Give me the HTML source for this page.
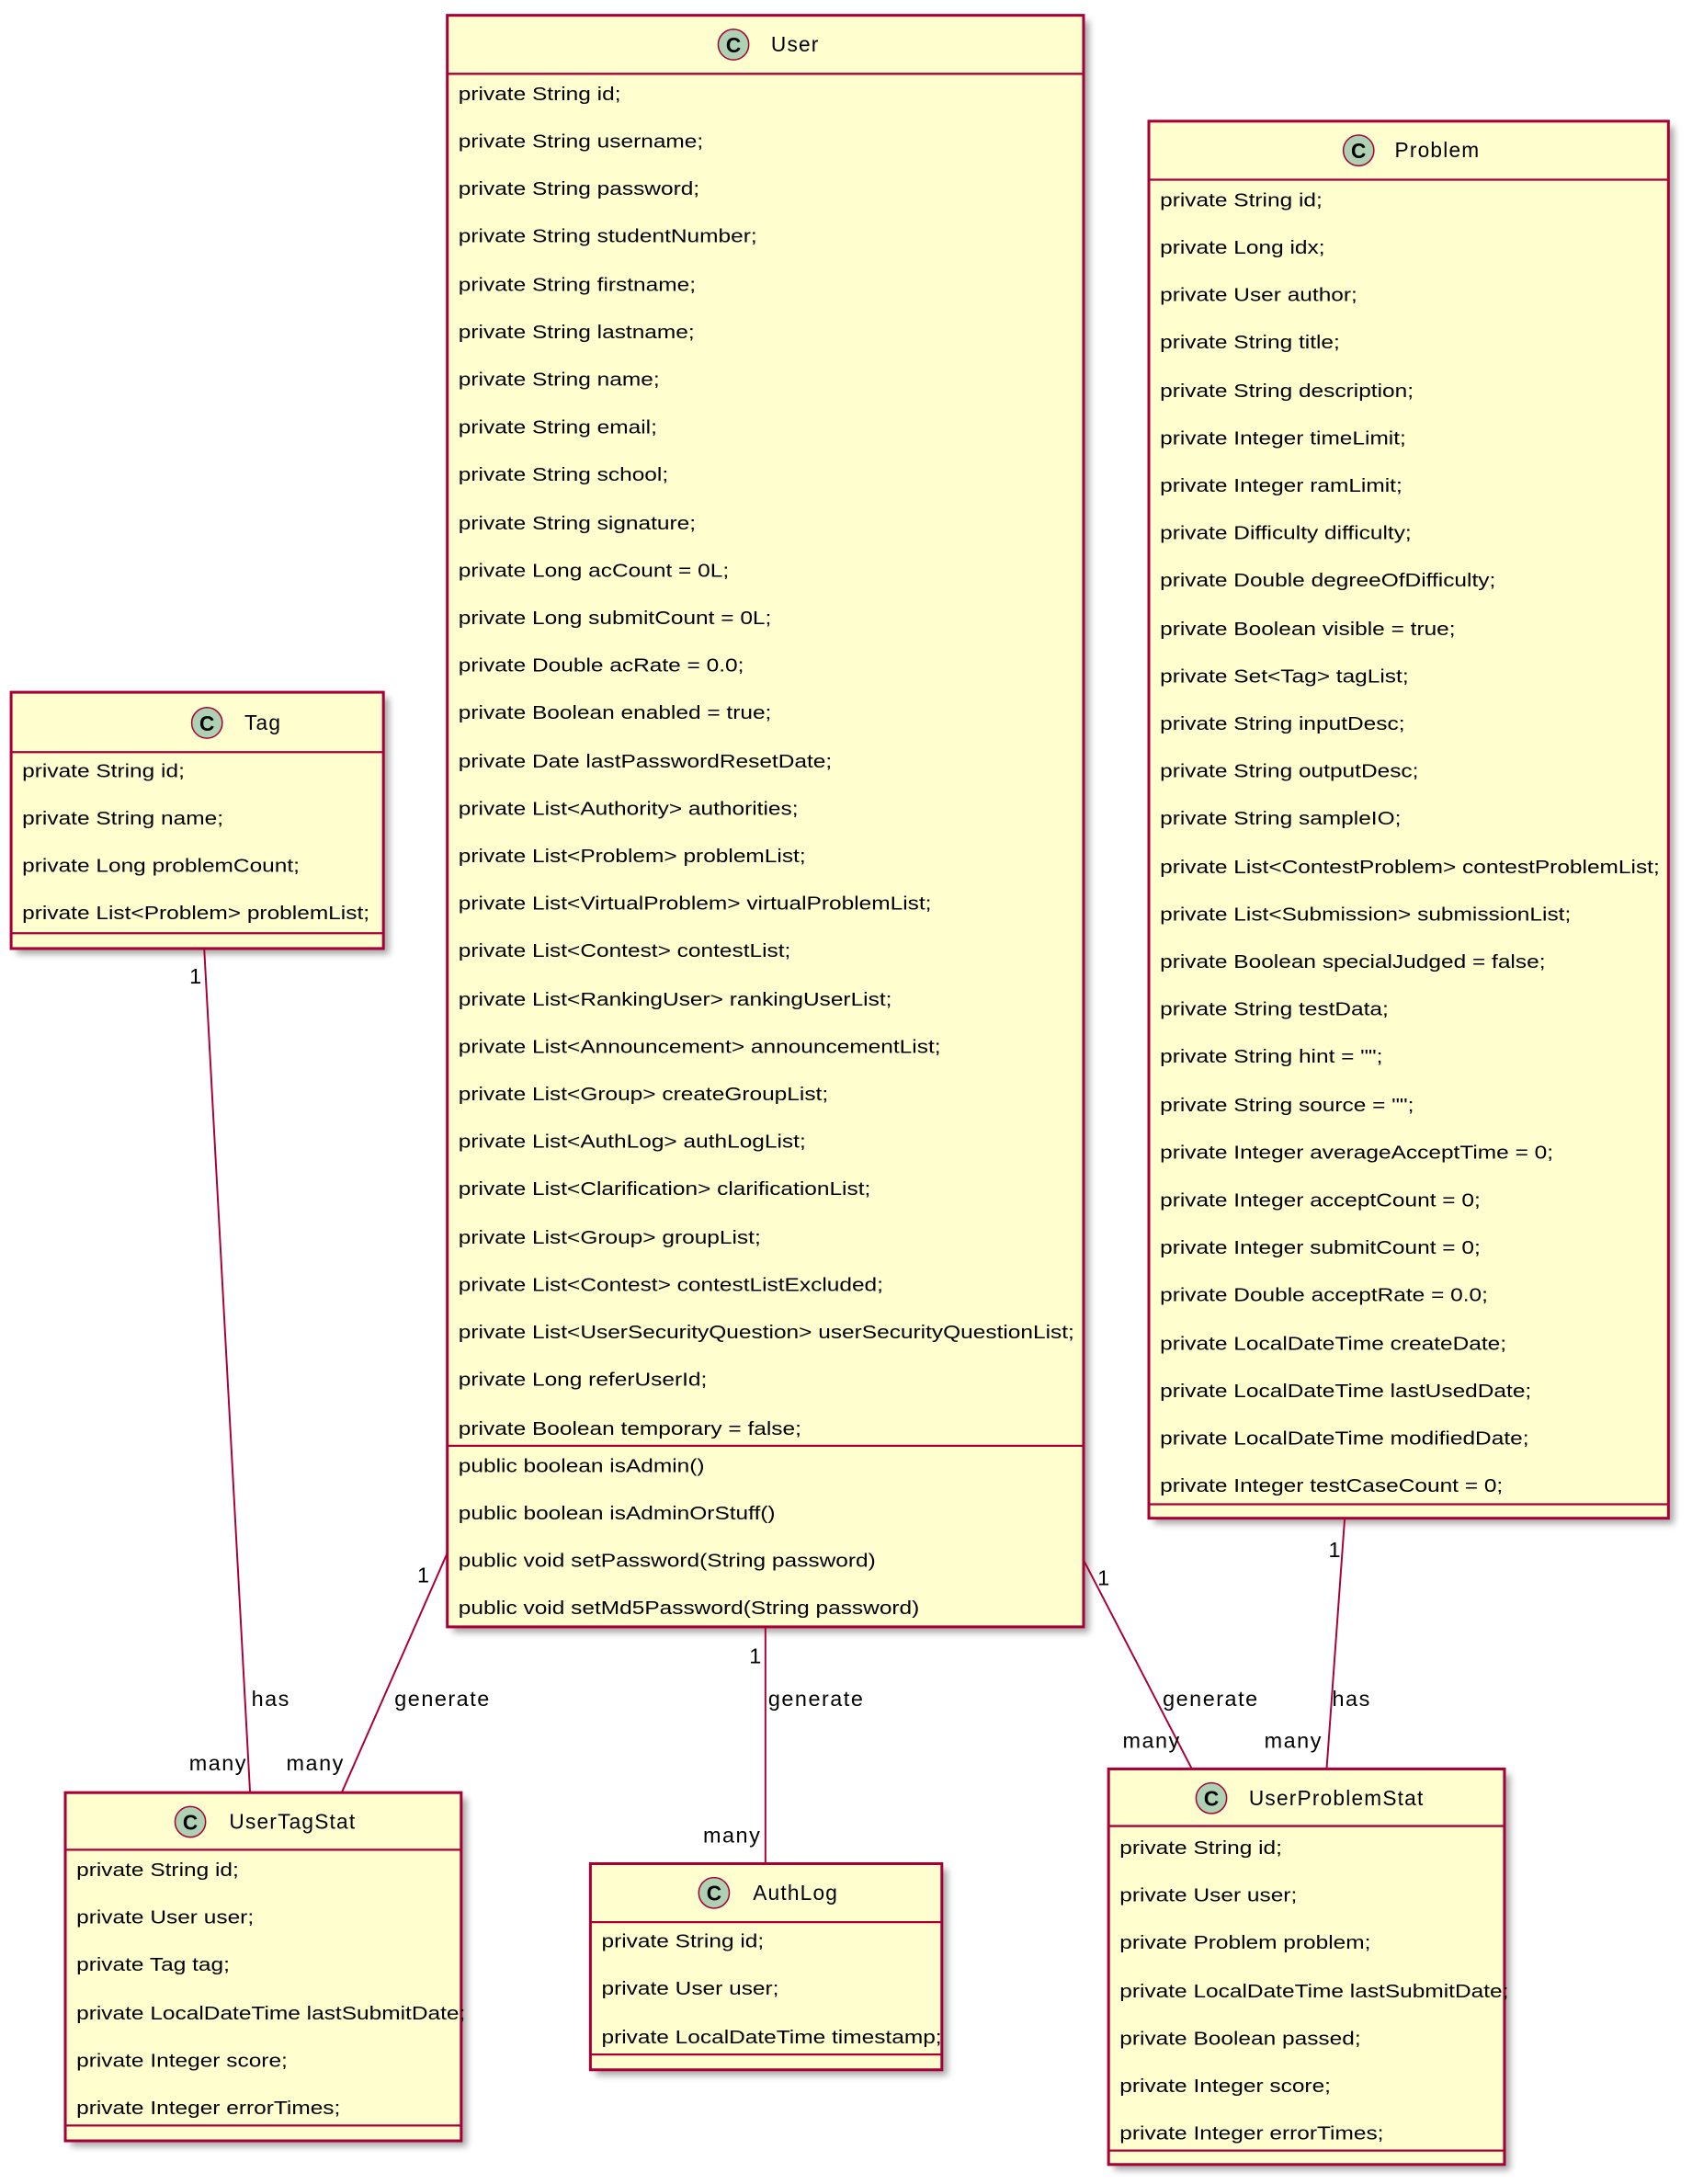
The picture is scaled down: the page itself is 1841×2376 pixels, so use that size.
<!DOCTYPE html>
<html><head><meta charset="utf-8"><style>html,body{margin:0;padding:0;background:#fff}svg{display:block}</style></head><body>
<svg width="1841" height="2376" viewBox="0 0 1218 1568" preserveAspectRatio="none" xmlns="http://www.w3.org/2000/svg" font-family="'Liberation Sans', 'DejaVu Sans', sans-serif">
<defs><filter id="sh" x="-5%" y="-5%" width="115%" height="115%"><feGaussianBlur stdDeviation="2.5"/></filter></defs>
<g fill="#000" opacity="0.35" filter="url(#sh)">
<rect x="326" y="15" width="458" height="1157"/>
<rect x="831" y="91" width="374" height="1003"/>
<rect x="12" y="501" width="268" height="184"/>
<rect x="51" y="1291" width="285" height="250"/>
<rect x="429" y="1342" width="253" height="148"/>
<rect x="802" y="1274" width="285" height="284"/>
</g>
<g stroke="#A80036" stroke-width="1.3" fill="none">
<line x1="147" y1="681" x2="180" y2="1287"/>
<line x1="322" y1="1115" x2="246" y2="1287"/>
<line x1="551" y1="1168" x2="551" y2="1338"/>
<line x1="780" y1="1120" x2="858" y2="1270"/>
<line x1="968" y1="1090" x2="955" y2="1270"/>
</g>
<g fill="#FEFECE" stroke="#A80036" stroke-width="2">
<rect x="322" y="11" width="458" height="1157"/>
<rect x="827" y="87" width="374" height="1003"/>
<rect x="8" y="497" width="268" height="184"/>
<rect x="47" y="1287" width="285" height="250"/>
<rect x="425" y="1338" width="253" height="148"/>
<rect x="798" y="1270" width="285" height="284"/>
</g>
<g stroke="#A80036" stroke-width="1.5">
<line x1="322" y1="53" x2="780" y2="53"/><line x1="322" y1="1038" x2="780" y2="1038"/>
<line x1="827" y1="129" x2="1201" y2="129"/><line x1="827" y1="1080" x2="1201" y2="1080"/>
<line x1="8" y1="540" x2="276" y2="540"/><line x1="8" y1="670" x2="276" y2="670"/>
<line x1="47" y1="1328" x2="332" y2="1328"/><line x1="47" y1="1526" x2="332" y2="1526"/>
<line x1="425" y1="1380" x2="678" y2="1380"/><line x1="425" y1="1475" x2="678" y2="1475"/>
<line x1="798" y1="1311" x2="1083" y2="1311"/><line x1="798" y1="1544" x2="1083" y2="1544"/>
</g>
<g fill="#ADD1B2" stroke="#A80036" stroke-width="1">
<circle cx="528" cy="32" r="11"/><circle cx="978" cy="108" r="11"/><circle cx="149" cy="519" r="11"/>
<circle cx="137" cy="1308" r="11"/><circle cx="514" cy="1359" r="11"/><circle cx="872" cy="1291" r="11"/>
</g>
<g font-size="15" font-weight="bold" text-anchor="middle" fill="#000">
<text x="528" y="37.5">C</text><text x="978" y="113.5">C</text><text x="149" y="524.5">C</text>
<text x="137" y="1313.5">C</text><text x="514" y="1364.5">C</text><text x="872" y="1296.5">C</text>
</g>
<g font-size="15" fill="#000" letter-spacing="0.8">
<text x="555" y="37">User</text><text x="1004" y="113">Problem</text><text x="176" y="524">Tag</text>
<text x="165" y="1313">UserTagStat</text><text x="542" y="1364">AuthLog</text><text x="899" y="1296">UserProblemStat</text>
</g>
<g font-size="13.6" fill="#000">
<g transform="translate(330,0) scale(1.19,1)">
<text y="72">private String id;</text><text y="106">private String username;</text><text y="140">private String password;</text><text y="174">private String studentNumber;</text><text y="209">private String firstname;</text><text y="243">private String lastname;</text><text y="277">private String name;</text><text y="311">private String email;</text><text y="345">private String school;</text><text y="380">private String signature;</text><text y="414">private Long acCount = 0L;</text><text y="448">private Long submitCount = 0L;</text><text y="482">private Double acRate = 0.0;</text><text y="516">private Boolean enabled = true;</text><text y="551">private Date lastPasswordResetDate;</text><text y="585">private List&lt;Authority&gt; authorities;</text><text y="619">private List&lt;Problem&gt; problemList;</text><text y="653">private List&lt;VirtualProblem&gt; virtualProblemList;</text><text y="687">private List&lt;Contest&gt; contestList;</text><text y="722">private List&lt;RankingUser&gt; rankingUserList;</text><text y="756">private List&lt;Announcement&gt; announcementList;</text><text y="790">private List&lt;Group&gt; createGroupList;</text><text y="824">private List&lt;AuthLog&gt; authLogList;</text><text y="858">private List&lt;Clarification&gt; clarificationList;</text><text y="893">private List&lt;Group&gt; groupList;</text><text y="927">private List&lt;Contest&gt; contestListExcluded;</text><text y="961">private List&lt;UserSecurityQuestion&gt; userSecurityQuestionList;</text><text y="995">private Long referUserId;</text><text y="1030">private Boolean temporary = false;</text>
<text y="1057">public boolean isAdmin()</text><text y="1091">public boolean isAdminOrStuff()</text><text y="1125">public void setPassword(String password)</text><text y="1159">public void setMd5Password(String password)</text>
</g>
<g transform="translate(835,0) scale(1.19,1)">
<text y="148">private String id;</text><text y="182">private Long idx;</text><text y="216">private User author;</text><text y="250">private String title;</text><text y="285">private String description;</text><text y="319">private Integer timeLimit;</text><text y="353">private Integer ramLimit;</text><text y="387">private Difficulty difficulty;</text><text y="421">private Double degreeOfDifficulty;</text><text y="456">private Boolean visible = true;</text><text y="490">private Set&lt;Tag&gt; tagList;</text><text y="524">private String inputDesc;</text><text y="558">private String outputDesc;</text><text y="592">private String sampleIO;</text><text y="627">private List&lt;ContestProblem&gt; contestProblemList;</text><text y="661">private List&lt;Submission&gt; submissionList;</text><text y="695">private Boolean specialJudged = false;</text><text y="729">private String testData;</text><text y="763">private String hint = "";</text><text y="798">private String source = "";</text><text y="832">private Integer averageAcceptTime = 0;</text><text y="866">private Integer acceptCount = 0;</text><text y="900">private Integer submitCount = 0;</text><text y="934">private Double acceptRate = 0.0;</text><text y="969">private LocalDateTime createDate;</text><text y="1003">private LocalDateTime lastUsedDate;</text><text y="1037">private LocalDateTime modifiedDate;</text><text y="1071">private Integer testCaseCount = 0;</text>
</g>
<g transform="translate(16,0) scale(1.19,1)">
<text y="558">private String id;</text><text y="592">private String name;</text><text y="626">private Long problemCount;</text><text y="660">private List&lt;Problem&gt; problemList;</text>
</g>
<g transform="translate(55,0) scale(1.19,1)">
<text y="1347">private String id;</text><text y="1381">private User user;</text><text y="1415">private Tag tag;</text><text y="1450">private LocalDateTime lastSubmitDate;</text><text y="1484">private Integer score;</text><text y="1518">private Integer errorTimes;</text>
</g>
<g transform="translate(433,0) scale(1.19,1)">
<text y="1398">private String id;</text><text y="1432">private User user;</text><text y="1467">private LocalDateTime timestamp;</text>
</g>
<g transform="translate(806,0) scale(1.19,1)">
<text y="1331">private String id;</text><text y="1365">private User user;</text><text y="1399">private Problem problem;</text><text y="1434">private LocalDateTime lastSubmitDate;</text><text y="1468">private Boolean passed;</text><text y="1502">private Integer score;</text><text y="1536">private Integer errorTimes;</text>
</g>
</g>
<g font-size="15.5" fill="#000" letter-spacing="1">
<text x="146" y="706" text-anchor="end">1</text>
<text x="181" y="1225">has</text>
<text x="178" y="1271" text-anchor="end">many</text>
<text x="310" y="1136" text-anchor="end">1</text>
<text x="284" y="1225">generate</text>
<text x="248" y="1271" text-anchor="end">many</text>
<text x="549" y="1194" text-anchor="end">1</text>
<text x="553" y="1225">generate</text>
<text x="548" y="1323" text-anchor="end">many</text>
<text x="790" y="1138">1</text>
<text x="837" y="1225">generate</text>
<text x="850" y="1255" text-anchor="end">many</text>
<text x="966" y="1118" text-anchor="end">1</text>
<text x="959" y="1225">has</text>
<text x="952" y="1255" text-anchor="end">many</text>
</g>
</svg>
</body></html>
